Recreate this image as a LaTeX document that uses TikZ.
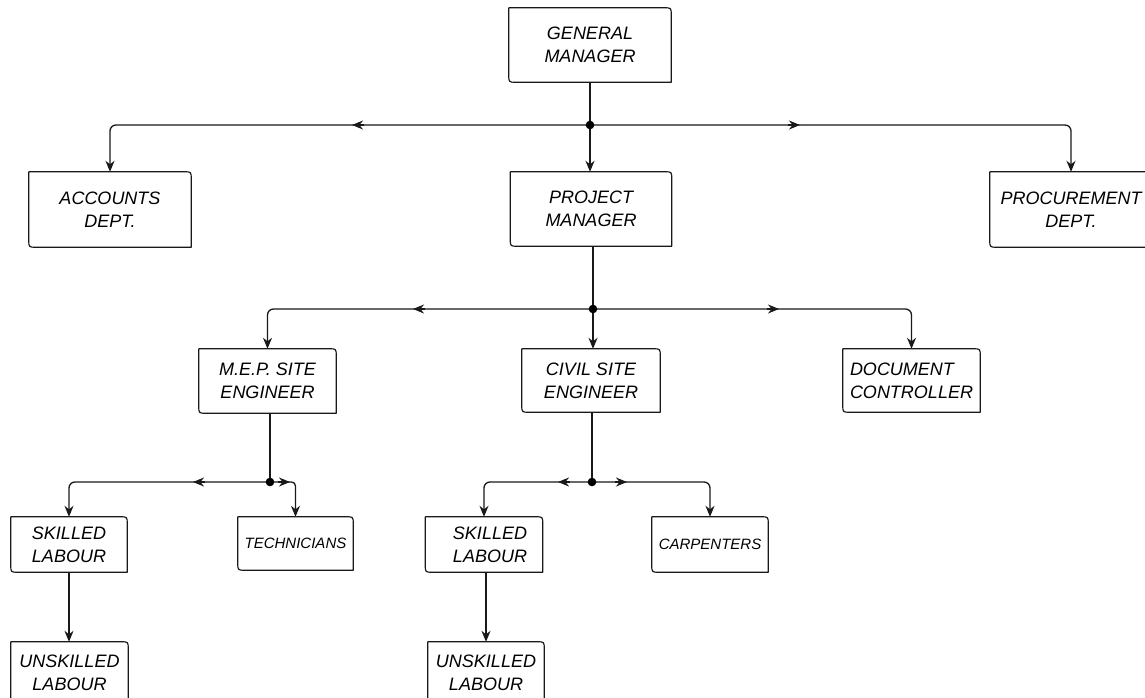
\documentclass[tikz,border=0pt]{standalone}
\usepackage{fontspec}
\setmainfont{Liberation Sans}
\usetikzlibrary{arrows.meta}
\tikzset{
  box/.style={rectangle, draw=none, inner sep=0pt, align=center,
    font=\fontsize{18}{23}\selectfont\itshape},
  smallbox/.style={box, font=\fontsize{15}{18}\selectfont\itshape},
  conn/.style={draw=black!90, line width=1.3pt},
  arr/.style={conn, -{Stealth[length=11pt,width=9pt,inset=3.5pt]}},
  dot/.style={fill=black},
}
\begin{document}
\begin{tikzpicture}[x=1pt,y=-1pt]
\useasboundingbox (0,0) rectangle (1145,698);
\fill[white] (0,0) rectangle (1145,698);
\clip (0,0) rectangle (1145,698);
% boxes
\node[box, minimum width=162pt, minimum height=74pt] (gm) at (590,45) {GENERAL\\MANAGER};
\node[box, minimum width=161pt, minimum height=74pt] (pm) at (591,209) {PROJECT\\MANAGER};
\node[box, minimum width=162pt, minimum height=75pt] (acc) at (110,209.5) {ACCOUNTS\\DEPT.};
\node[box, minimum width=162pt, minimum height=75pt] (proc) at (1071,209.5) {PROCUREMENT\\DEPT.};
\node[box, minimum width=137pt, minimum height=64pt] (mep) at (267.5,381) {M.E.P. SITE\\ENGINEER};
\node[box, minimum width=138pt, minimum height=63pt] (civil) at (591,380.5) {CIVIL SITE\\ENGINEER};
\node[box, align=left, minimum width=137pt, minimum height=63pt] (dc) at (911.5,380.5) {DOCUMENT\\CONTROLLER};
\node[box, minimum width=116pt, minimum height=55pt] (sk1) at (69,544.5) {SKILLED\\LABOUR};
\node[smallbox, minimum width=115pt, minimum height=53pt] (tech) at (295.5,543.5) {TECHNICIANS};
\node[box, minimum width=117pt, minimum height=55pt] (sk2) at (484,544.5) {\hspace*{12pt}SKILLED\\\hspace*{12pt}LABOUR};
\node[smallbox, minimum width=116pt, minimum height=55pt] (carp) at (710,544.5) {CARPENTERS};
\node[box, minimum width=117pt, minimum height=62pt] (un1) at (69.5,673) {UNSKILLED\\LABOUR};
\node[box, minimum width=116pt, minimum height=62pt] (un2) at (486,673) {UNSKILLED\\LABOUR};
% outlines: top-right and bottom-left corners rounded
\foreach \b in {gm,pm,acc,proc,mep,civil,dc,sk1,tech,sk2,carp,un1,un2}{
  \draw[conn, line width=1.2pt, line join=round] (\b.north west) -- ([xshift=-7pt]\b.north east)
    .. controls (\b.north east) .. ([yshift=-7pt]\b.north east)
    -- (\b.south east) -- ([xshift=7pt]\b.south west)
    .. controls (\b.south west) .. ([yshift=7pt]\b.south west) -- cycle;
}
% junctions and mid-arrow points
\coordinate (j1) at (590,125);
\coordinate (a1) at (352,125);
\coordinate (a2) at (800,125);
\coordinate (j2) at (593,309);
\coordinate (a3) at (413,309);
\coordinate (a4) at (779,309);
\coordinate (j3) at (270,482);
\coordinate (a5) at (193,482);
\coordinate (a6) at (290,482);
\coordinate (j4) at (592,482);
\coordinate (a7) at (558,482);
\coordinate (a8) at (627,482);
% level 1
\draw[conn] (gm.south -| j1) -- (j1);
\draw[arr] (j1) -- (j1 |- pm.north);
\draw[arr, rounded corners=6pt] (j1) -| (acc.north);
\draw[arr, rounded corners=6pt] (j1) -| (proc.north);
\draw[arr] ([xshift=12pt]a1) -- (a1);
\draw[arr] ([xshift=-12pt]a2) -- (a2);
\fill[dot] (j1) circle (4.3pt);
% level 2
\draw[conn] (pm.south -| j2) -- (j2);
\draw[arr] (j2) -- (j2 |- civil.north);
\draw[arr, rounded corners=6pt] (j2) -| (mep.north);
\draw[arr, rounded corners=6pt] (j2) -| (dc.north);
\draw[arr] ([xshift=12pt]a3) -- (a3);
\draw[arr] ([xshift=-12pt]a4) -- (a4);
\fill[dot] (j2) circle (4.3pt);
% level 3 (MEP)
\draw[conn] (mep.south -| j3) -- (j3);
\draw[arr, rounded corners=6pt] (j3) -| (sk1.north);
\draw[arr, rounded corners=4pt] (j3) -| (tech.north);
\draw[arr] ([xshift=12pt]a5) -- (a5);
\draw[arr] ([xshift=-12pt]a6) -- (a6);
\fill[dot] (j3) circle (4.3pt);
% level 3 (civil)
\draw[conn] (civil.south -| j4) -- (j4);
\draw[arr, rounded corners=6pt] (j4) -| (sk2.north);
\draw[arr, rounded corners=6pt] (j4) -| (carp.north);
\draw[arr] ([xshift=12pt]a7) -- (a7);
\draw[arr] ([xshift=-12pt]a8) -- (a8);
\fill[dot] (j4) circle (4.3pt);
% level 4
\draw[arr] (sk1.south) -- (sk1.south |- un1.north);
\draw[arr] (un2.north |- sk2.south) -- (un2.north);
\end{tikzpicture}
\end{document}
